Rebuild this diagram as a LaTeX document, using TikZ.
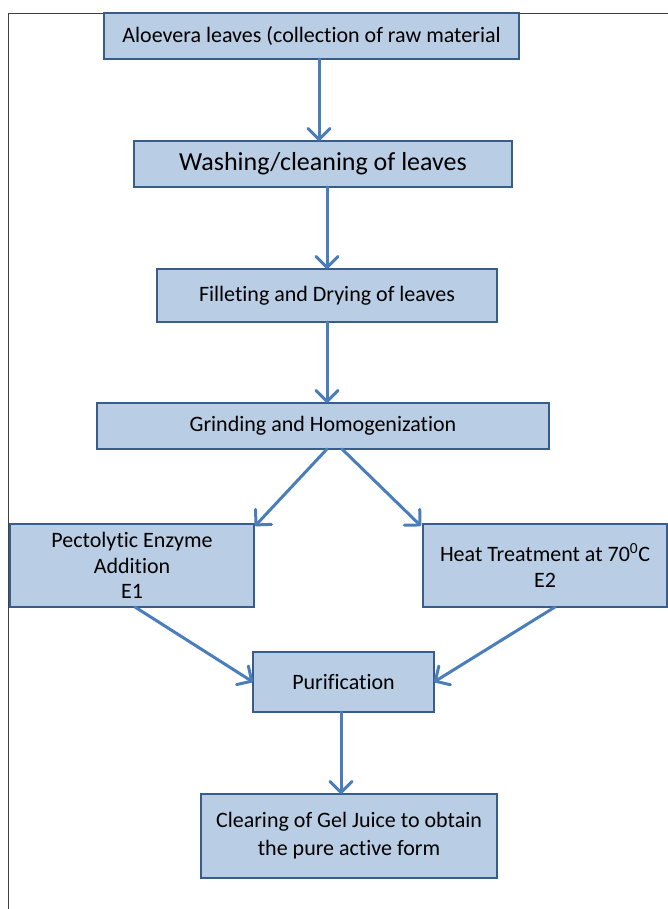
\documentclass[tikz,border=0pt]{standalone}
\usepackage{fontspec}
\setmainfont[Ligatures=NoCommon]{Carlito}
\usetikzlibrary{arrows.meta}
\usetikzlibrary{positioning}

\definecolor{boxfill}{HTML}{B9CDE5}
\definecolor{boxline}{HTML}{385D8A}
\definecolor{flowblue}{HTML}{4A7EBB}
\definecolor{framegray}{HTML}{404040}

\tikzset{
  stage/.style={draw=boxline, fill=boxfill, line width=1.5pt, inner sep=0pt,
    outer sep=0pt, align=center, font=\fontsize{22}{25.5}\selectfont},
  flow/.style={draw=flowblue, line width=3pt, line cap=round,
    -{Straight Barb[length=11pt,width=22pt,round]}},
}

\begin{document}
\begin{tikzpicture}[x=1pt, y=-1pt]
    \useasboundingbox (0,0) rectangle (668,909);
    \draw[framegray, line width=1.5pt] (8.5,909) -- (8.5,13.5) -- (668,13.5);

    \node[stage, minimum width=415pt, minimum height=46pt] (aloe) at (311.5,36)
      {Aloevera leaves (collection of raw material};
    \node[stage, minimum width=378pt, minimum height=46pt,
      font=\fontsize{26}{30}\selectfont] (wash) at (323,164)
      {Washing/cleaning of leaves};
    \node[stage, minimum width=340pt, minimum height=53pt] (fillet) at (327,295.5)
      {Filleting and Drying of leaves};
    \node[stage, minimum width=452pt, minimum height=46pt] (grind) at (323,426)
      {Grinding and Homogenization};
    \node[stage, minimum width=244pt, minimum height=83pt] (pect) at (132,565.5)
      {Pectolytic Enzyme\\Addition\\E1};
    \node[stage, minimum width=244pt, minimum height=83pt,
      font=\fontsize{22}{26}\selectfont] (heat) at (545,565.5)
      {Heat Treatment at 70\textsuperscript{0}C\\E2};
    \node[stage, minimum width=181pt, minimum height=60pt] (purif) at (343.5,682)
      {Purification};
    \node[stage, minimum width=296pt, minimum height=84pt,
      font=\fontsize{22}{28}\selectfont] (clear) at (349,836)
      {Clearing of Gel Juice to obtain\\the pure active form};

    % main line
    \draw[flow] ([xshift=7.5pt]aloe.south) -- ([xshift=7.5pt]aloe.south |- wash.north);
    \draw[flow] (fillet.north |- wash.south) -- (fillet.north);
    \draw[flow] (fillet.south) -- (grind.north -| fillet.south);
    % split and merge
    \draw[flow] ([xshift=4pt]grind.south) -- ([xshift=1pt,yshift=-2pt]pect.north east);
    \draw[flow] ([xshift=19pt]grind.south) -- ([xshift=-2pt,yshift=-2pt]heat.north west);
    \draw[flow] ([xshift=3pt]pect.south) -- (purif.west);
    \draw[flow] ([xshift=10pt]heat.south) -- (purif.east);
    \draw[flow] ([xshift=-2.5pt]purif.south) -- ([xshift=-2.5pt]purif.south |- clear.north);
\end{tikzpicture}
\end{document}
